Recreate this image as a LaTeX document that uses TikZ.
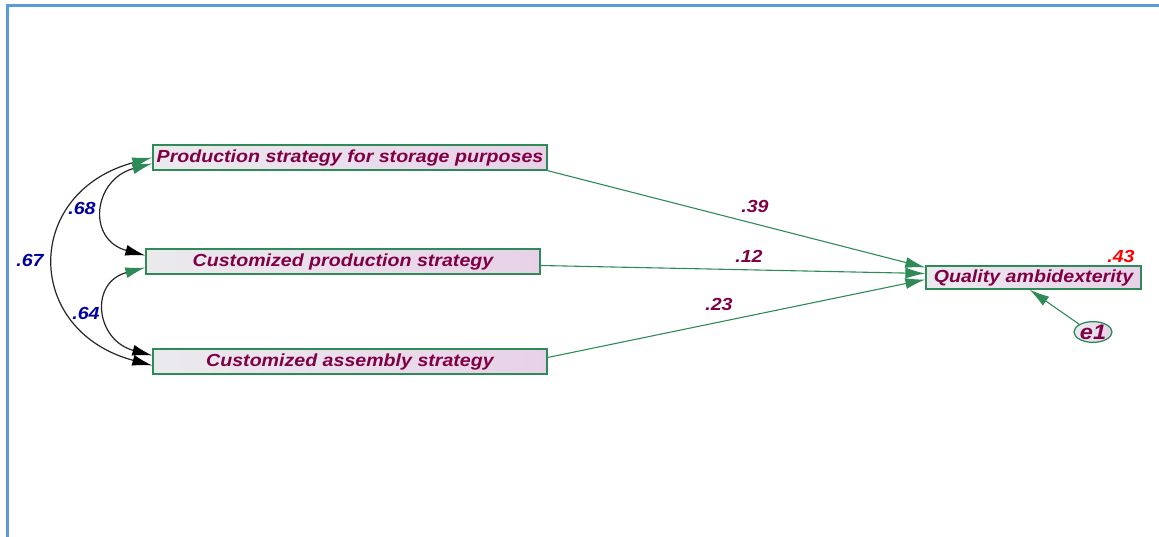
\documentclass[tikz,border=0pt]{standalone}
\usepackage{fontspec}
\setmainfont{Liberation Sans}[FakeStretch=1.12]
\usetikzlibrary{arrows.meta,shapes.geometric}
\definecolor{pathgreen}{RGB}{46,139,87}
\definecolor{varname}{RGB}{128,0,70}
\definecolor{covblue}{RGB}{0,0,160}
\definecolor{frameblue}{RGB}{91,155,213}
\begin{document}
\begin{tikzpicture}[x=1pt,y=-1pt,
   every node/.style={font=\fontsize{17.5}{20}\selectfont\bfseries\itshape},
   var/.style={draw=pathgreen,line width=1.3pt,left color=blue!8!gray!15,right color=violet!18,
     text=varname,minimum height=25pt,inner sep=0pt},
   coef/.style={text=varname},
   cov/.style={text=covblue},
   path/.style={draw=pathgreen,line width=1.1pt,-{Latex[length=20pt,width=11pt]}},
   twoway/.style={draw=black!85,line width=1.2pt,
     {Latex[length=20pt,width=11pt,color=pathgreen]}-{Latex[length=20pt,width=11pt,color=black]}}]

\useasboundingbox (0,0) rectangle (1159,537);
\draw[frameblue,line width=3pt] (7,537) -- (7,6) -- (1159,6);

\node[var,minimum width=394pt] (store) at (350,157.5) {Production strategy for storage purposes};
\node[var,minimum width=394pt] (custprod) at (343,261.5) {Customized production strategy};
\node[var,minimum width=394pt] (custasm) at (350,361.5) {Customized assembly strategy};
\node[var,minimum width=215pt,minimum height=23pt] (quality) at (1033.5,277.5) {Quality ambidexterity};
\node[draw=pathgreen,line width=1.3pt,ellipse,left color=blue!8!gray!15,right color=violet!18,
   text=varname,minimum width=38pt,minimum height=20pt,inner sep=0pt,
   font=\fontsize{21}{24}\selectfont\bfseries\itshape] (e1) at (1093,332) {e1};

% regression paths
\draw[path] (store.south east) -- ([yshift=10pt]quality.west);
\draw[path] ([yshift=-4pt]custprod.east) -- ([yshift=4pt]quality.west);
\draw[path] ([yshift=4pt]custasm.east) -- ([yshift=-2pt]quality.west);
\draw[path] (e1.north west) -- ([xshift=-4pt]quality.south);

% covariances
\draw[twoway] (store.west) to[out=195,in=165,looseness=1.65] ([yshift=-4pt]custasm.west);
\draw[twoway] ([yshift=-6pt]store.west) to[out=195,in=165,looseness=1.7] ([yshift=6pt]custprod.west);
\draw[twoway] ([yshift=-6pt]custprod.west) to[out=195,in=165,looseness=1.7] ([yshift=6pt]custasm.west);

% estimates
\node[coef] (c39) at (755,206) {.39};
\node[coef] (c12) at (749,256) {.12};
\node[coef] (c23) at (719,304) {.23};
\node[text=red] (r43) at (1121,256) {.43};
\node[cov] (k68) at (82,208) {.68};
\node[cov] (k67) at (30,260) {.67};
\node[cov] (k64) at (86,313) {.64};

\end{tikzpicture}
\end{document}
